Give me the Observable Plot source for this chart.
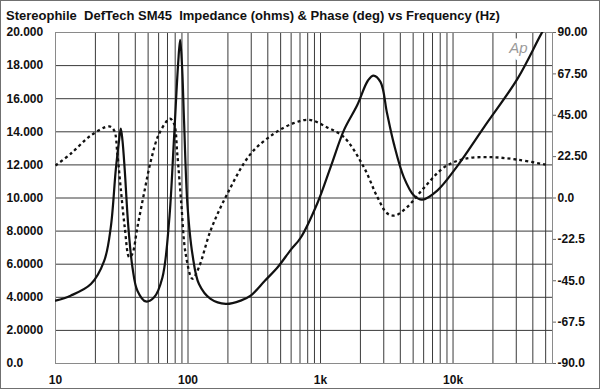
<!DOCTYPE html>
<html><head><meta charset="utf-8">
<script src="https://cdn.jsdelivr.net/npm/d3@7"></script>
<script src="https://cdn.jsdelivr.net/npm/@observablehq/plot@0.6"></script>
<style>
body{margin:0;background:#fff;}
#wrap{position:relative;width:600px;height:389px;box-sizing:border-box;border:1px solid #707070;overflow:hidden;font-family:"Liberation Sans",Arial,sans-serif;background:#fff;}
#title{position:absolute;left:5px;top:7px;font-weight:bold;font-size:13px;white-space:pre;color:#111;z-index:2;line-height:15px;}
#chart{position:absolute;left:0;top:0;}
</style></head><body>
<div id="wrap"><div id="title"></div><div id="chart"></div></div>
<script>
const titleText = "Stereophile  DefTech SM45  Impedance (ohms) & Phase (deg) vs Frequency (Hz)";

// Impedance (ohms) vs frequency (Hz)
const impFreq = [10, 13, 18.5, 23.3, 26.1, 28.5, 30.2, 31.1, 32.0, 33.3, 35.5, 38.1, 41.5, 48, 55.5, 64.1, 72, 78.5, 84.2, 87.2, 90, 93.3, 99, 108, 121, 148, 193, 250, 297, 380, 473, 600, 708, 948, 1195, 1503, 1890, 2280, 2510, 2840, 3180, 3570, 4255, 5070, 5850, 7600, 10700, 17200, 30600, 46200, 52000];
const impOhms = [3.8, 4.1, 4.8, 6.2, 8.2, 11.7, 13.5, 14.2, 13.5, 11.7, 8.2, 5.8, 4.4, 3.75, 4.0, 5.2, 8.6, 13.7, 18.1, 19.55, 18.1, 14.7, 9.6, 6.6, 4.8, 3.9, 3.6, 3.8, 4.1, 5.0, 5.8, 6.9, 7.6, 9.7, 11.9, 14.1, 15.6, 17.1, 17.4, 17.0, 15.1, 13.3, 11.25, 10.15, 9.9, 10.45, 11.9, 14.3, 17.2, 19.9, 20.6];

// Phase (deg) vs frequency (Hz)
const phaseFreq = [10, 13, 18.5, 25.4, 27.7, 29.3, 31, 33.3, 36, 38, 41.5, 46.5, 52.5, 60.5, 73, 78.5, 83, 89, 96, 108, 121, 148, 198, 297, 443, 627, 825, 1115, 1503, 2120, 2690, 3180, 3650, 4500, 6100, 8600, 12200, 19500, 31000, 50000];
const phaseDeg = [17.7, 24, 34, 38.9, 36.7, 24, 5.9, -15.9, -32.2, -30.4, -15.9, 2.3, 20.4, 34.9, 43.1, 40.4, 24, -3.2, -30.4, -43.9, -37.6, -17.7, 2.3, 24, 34.9, 40.7, 42.5, 38.5, 33.1, 16.8, 0.4, -8.3, -9.5, -5, 5.9, 16.8, 21.3, 22.2, 20.8, 18.1];

// Axes
const impTicks = [0, 2, 4, 6, 8, 10, 12, 14, 16, 18, 20];
const impTickLabels = ["0.0", "2.0000", "4.0000", "6.0000", "8.0000", "10.000", "12.000", "14.000", "16.000", "18.000", "20.000"];
const phaseTicks = [-90, -67.5, -45, -22.5, 0, 22.5, 45, 67.5, 90];
const phaseTickLabels = ["-90.0", "-67.5", "-45.0", "-22.5", "0.0", "22.50", "45.00", "67.50", "90.00"];
const freqTicks = [10, 100, 1000, 10000, 50000];
const freqTickLabels = ["10", "100", "1k", "10k", "50k"];
const freqGrid = [20, 30, 40, 50, 60, 70, 80, 90, 100, 200, 300, 400, 500, 600, 700, 800, 900, 1000, 2000, 3000, 4000, 5000, 6000, 7000, 8000, 9000, 10000, 20000, 30000, 40000, 50000];
const impGrid = [2, 4, 6, 8, 10, 12, 14, 16, 18];
const freqDomain = [10, 56300];

document.getElementById("title").textContent = titleText;

const toZ = p => (p + 90) / 180 * 20;
const impData = impFreq.map((f, i) => ({f, v: impOhms[i]}));
const phaseData = phaseFreq.map((f, i) => ({f, v: toZ(phaseDeg[i])}));
const phaseTickZ = phaseTicks.map(toZ);

const chart = Plot.plot({
  width: 598,
  height: 387,
  marginTop: 31,
  marginBottom: 25,
  marginLeft: 54,
  marginRight: 47,
  style: {fontFamily: '"Liberation Sans", Arial, sans-serif', fontWeight: "bold", fontSize: "12px", color: "#111", background: "transparent"},
  x: {type: "log", domain: freqDomain, label: null},
  y: {domain: [0, 20], label: null},
  marks: [
    Plot.ruleX(freqGrid, {stroke: "#3a3a3a", strokeWidth: 1}),
    Plot.ruleY(impGrid, {stroke: "#3a3a3a", strokeWidth: 1}),
    Plot.frame({stroke: "#8a8a8a"}),
    Plot.axisY(impTicks, {anchor: "left", label: null, tickSize: 0, tickPadding: 0, textAnchor: "start", dx: -49, tickFormat: d => impTickLabels[impTicks.indexOf(d)]}),
    Plot.axisY(phaseTickZ, {anchor: "right", label: null, tickSize: 3, tickPadding: 2, stroke: "#666", tickFormat: d => phaseTickLabels[phaseTickZ.indexOf(d)]}),
    Plot.axisX(freqTicks, {anchor: "bottom", label: null, tickSize: 0, tickPadding: 12, tickFormat: d => freqTickLabels[freqTicks.indexOf(d)]}),
    Plot.text(["Ap"], {frameAnchor: "top-right", dx: -25, dy: 10, fontSize: 15, fontStyle: "italic", fontWeight: "normal", fill: "#9a9a9a", stroke: "white", strokeWidth: 9}),
    Plot.line(phaseData, {x: "f", y: "v", curve: "catmull-rom", stroke: "#111", strokeWidth: 2.3, strokeDasharray: "3,3", strokeLinecap: "butt", clip: true}),
    Plot.line(impData, {x: "f", y: "v", curve: "catmull-rom", stroke: "#111", strokeWidth: 2.2, clip: true})
  ]
});
document.getElementById("chart").appendChild(chart);
</script>
</body></html>
